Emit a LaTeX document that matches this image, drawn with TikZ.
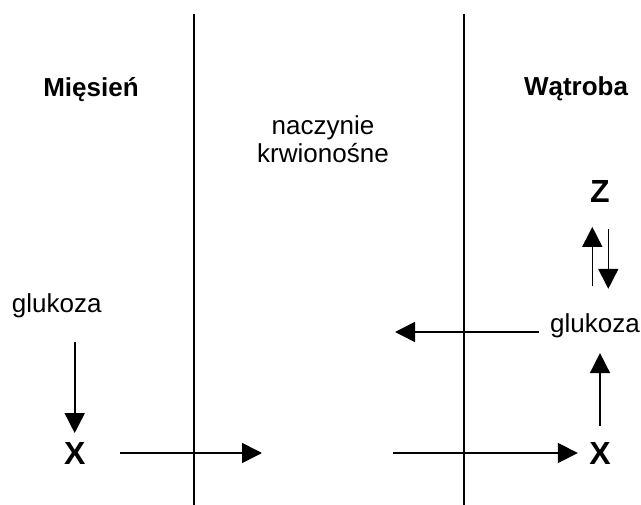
\documentclass[tikz,border=0pt]{standalone}
\usepackage{fontspec}
\setmainfont{Liberation Sans}
\usetikzlibrary{arrows.meta}

\begin{document}
\begin{tikzpicture}[x=1pt,y=-1pt,
    txt/.style={inner sep=0pt,anchor=base,font=\fontsize{26}{28}\selectfont},
    bold/.style={txt,font=\fontsize{26}{28}\selectfont\bfseries},
    big/.style={txt,font=\fontsize{32}{34}\selectfont\bfseries},
    arr/.style={line width=1.6pt,-{Triangle[width=20pt,length=20pt]}}]
  \useasboundingbox (0,0) rectangle (641,505);
  % granice
  \coordinate (g1) at (194,14);
  \coordinate (d1) at (194,505);
  \coordinate (g2) at (464,14);
  \coordinate (d2) at (464,505);
  \draw[line width=1.6pt] (g1) -- (d1);
  \draw[line width=1.6pt] (g2) -- (d2);
  % napisy
  \node[bold] (miesien) at (91,97) {Mięsień};
  \node[bold] (watroba) at (576,96) {Wątroba};
  \node[txt,align=center] (naczynie) at (323,163) {naczynie\\krwionośne};
  \node[big] (Z) at (600,202.7) {Z};
  \node[txt] (glukozaL) at (56.7,313) {glukoza};
  \node[txt] (glukozaR) at (595,333) {glukoza};
  \node[big] (xL) at (74.7,465) {X};
  \node[big] (xR) at (600,465) {X};
  % strzalki
  \coordinate (doNacz) at (262,453);
  \coordinate (zNacz) at (393,453);
  \coordinate (doNaczG) at (395,332);
  \coordinate (zL) at ([xshift=-7.7pt]Z.south);
  \coordinate (zP) at ([xshift=8.3pt]Z.south);
  \draw[arr,shorten <=23.2pt,shorten >=9.7pt] (glukozaL.south -| xL.north) -- (xL.north);
  \draw[arr,shorten <=34.6pt] (xL.east |- doNacz) -- (doNacz);
  \draw[arr,shorten >=11.3pt] (zNacz) -- (xR.west |- zNacz);
  \draw[arr,shorten <=17pt,shorten >=14.5pt] (xR.north) -- (xR.north |- glukozaR.south);
  \draw[arr,shorten <=11pt] (glukozaR.west |- doNaczG) -- (doNaczG);
  \draw[arr,shorten <=27.7pt,shorten >=24pt] (zL |- glukozaR.north) -- (zL);
  \draw[arr,shorten <=26.3pt,shorten >=25.1pt] (zP) -- (zP |- glukozaR.north);
\end{tikzpicture}
\end{document}
